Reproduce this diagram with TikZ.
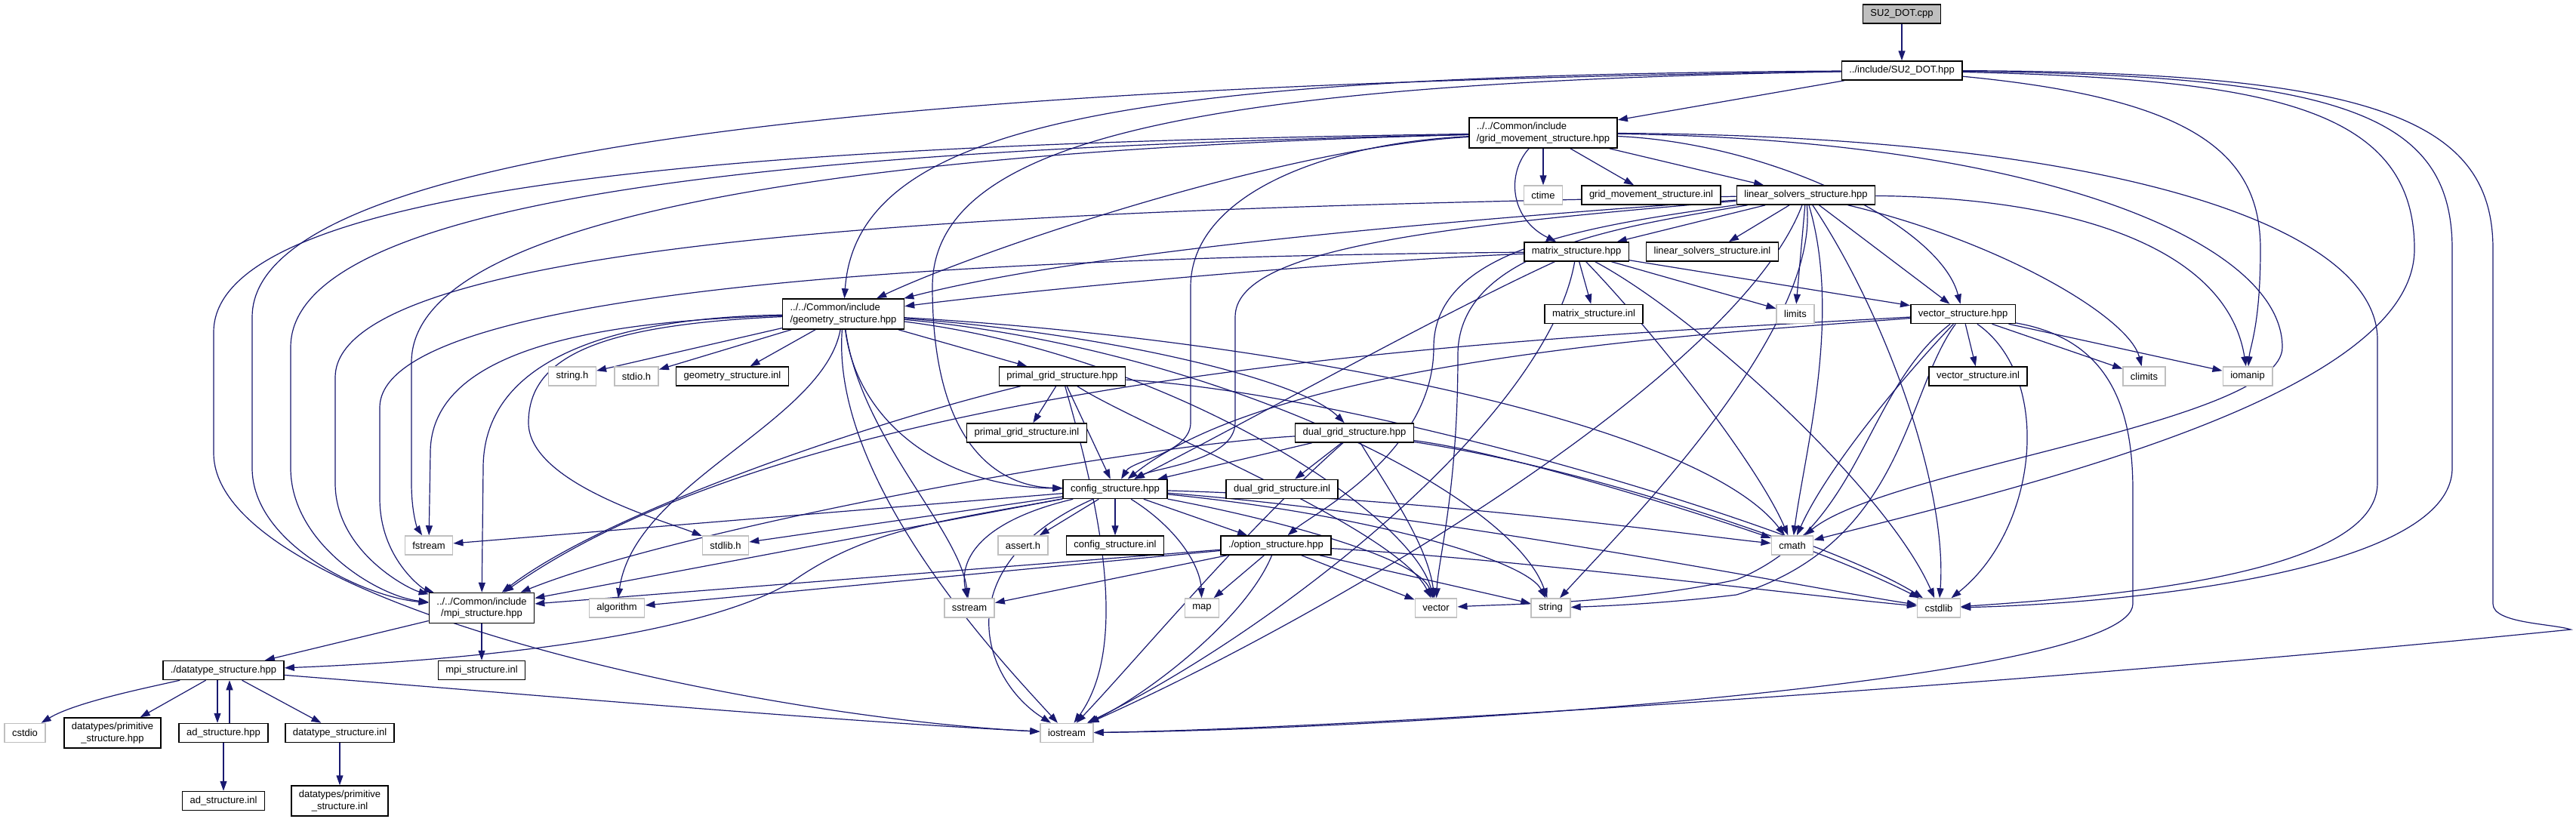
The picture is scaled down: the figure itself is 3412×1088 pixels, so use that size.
\documentclass[tikz,border=0pt]{standalone}
\usepackage{fontspec}
\setmainfont{Liberation Sans}
\usetikzlibrary{arrows.meta, backgrounds}
\definecolor{edgeblue}{HTML}{191970}
\definecolor{sysgray}{HTML}{BFBFBF}
\definecolor{rootgray}{HTML}{BFBFBF}
\newcommand{\gfont}{\fontsize{13bp}{15.3bp}\selectfont}
\tikzset{
  hdr/.style={draw=black, line width=1.5bp, fill=white, font=\gfont,
              inner xsep=10bp, inner ysep=0pt, minimum height=25bp},
  hdrtwo/.style={hdr, minimum height=40bp, align=left},
  hdrmid/.style={hdr, minimum height=40bp, align=center},
  sysh/.style={hdr, draw=sysgray},
  rootf/.style={hdr, fill=rootgray},
  dep/.style={-{Triangle[length=13bp,width=9bp]}, line width=1.2bp, draw=edgeblue},
}

\begin{document}
\begin{tikzpicture}[x=1bp, y=-1bp]
  \useasboundingbox (0,0) rectangle (3412,1088);
  % files, one row per rank
  \node[rootf] (cpp) at (2519,18.5) {SU2\_DOT.cpp};
  \node[hdr] (hpp) at (2519,93.5) {../include/SU2\_DOT.hpp};
  \node[hdrtwo] (grid) at (2044,176) {../../Common/include\\/grid\_movement\_structure.hpp};
  \node[sysh] (ctime) at (2044,258.5) {ctime};
  \node[hdr] (gridinl) at (2187,258.5) {grid\_movement\_structure.inl};
  \node[hdr] (lin) at (2392,258.5) {linear\_solvers\_structure.hpp};
  \node[hdr] (mat) at (2088,333.5) {matrix\_structure.hpp};
  \node[hdr] (lininl) at (2268,333.5) {linear\_solvers\_structure.inl};
  \node[hdrtwo] (geo) at (1117,416) {../../Common/include\\/geometry\_structure.hpp};
  \node[hdr] (matinl) at (2111,416) {matrix\_structure.inl};
  \node[sysh] (limits) at (2378,416) {limits};
  \node[hdr] (vec) at (2600,416) {vector\_structure.hpp};
  \node[sysh] (stringh) at (758,498.5) {string.h};
  \node[sysh] (stdioh) at (843,498.5) {stdio.h};
  \node[hdr] (geoinl) at (970,498.5) {geometry\_structure.inl};
  \node[hdr] (primal) at (1407,498.5) {primal\_grid\_structure.hpp};
  \node[hdr] (vecinl) at (2620,498.5) {vector\_structure.inl};
  \node[sysh] (climits) at (2840,498.5) {climits};
  \node[sysh] (iomanip) at (2977,498.5) {iomanip};
  \node[hdr] (primalinl) at (1360,573.5) {primal\_grid\_structure.inl};
  \node[hdr] (dual) at (1794,573.5) {dual\_grid\_structure.hpp};
  \node[hdr] (config) at (1477,648) {config\_structure.hpp};
  \node[hdr] (dualinl) at (1698,648) {dual\_grid\_structure.inl};
  \node[sysh] (fstream) at (568,722.5) {fstream};
  \node[sysh] (stdlibh) at (961,722.5) {stdlib.h};
  \node[sysh] (asserth) at (1355,722.5) {assert.h};
  \node[hdr] (configinl) at (1477,722.5) {config\_structure.inl};
  \node[hdr] (option) at (1690,722.5) {./option\_structure.hpp};
  \node[sysh] (cmath) at (2374,722.5) {cmath};
  \node[hdrmid] (mpi) at (638,805.5) {../../Common/include\\/mpi\_structure.hpp};
  \node[sysh] (algorithm) at (817,805.5) {algorithm};
  \node[sysh] (sstream) at (1284,805.5) {sstream};
  \node[sysh] (map) at (1592,805.5) {map};
  \node[sysh] (vector) at (1902,805.5) {vector};
  \node[sysh] (string) at (2054,805.5) {string};
  \node[sysh] (cstdlib) at (2568,805.5) {cstdlib};
  \node[hdr] (datatype) at (296,888) {./datatype\_structure.hpp};
  \node[hdr] (mpiinl) at (638,888) {mpi\_structure.inl};
  \node[sysh] (cstdio) at (33,971) {cstdio};
  \node[hdrmid] (primhpp) at (149,971) {datatypes/primitive\\\_structure.hpp};
  \node[hdr] (ad) at (296,971) {ad\_structure.hpp};
  \node[hdr] (datainl) at (450,971) {datatype\_structure.inl};
  \node[sysh] (iostream) at (1413,971) {iostream};
  \node[hdr] (adinl) at (296,1061) {ad\_structure.inl};
  \node[hdrmid] (priminl) at (450,1061) {datatypes/primitive\\\_structure.inl};

  \begin{scope}[on background layer]
  \fill[white] (0,0) rectangle (3412,1088);
  % straight includes
  \foreach \a/\b in {cpp/hpp, hpp/grid, grid/ctime, grid/gridinl, grid/lin,
      lin/mat, lin/lininl, lin/limits, lin/vec, mat/matinl, mat/limits, mat/vec,
      vec/vecinl, vec/climits, vec/iomanip, geo/stringh, geo/stdioh, geo/geoinl,
      geo/primal, primal/primalinl, primal/config, dual/dualinl, dual/config,
      config/asserth, config/configinl, config/option, config/fstream,
      config/stdlibh, config/mpi, option/mpi, option/algorithm, option/sstream,
      option/map, option/vector, option/string, mpi/datatype, mpi/mpiinl,
      datatype/primhpp, datatype/datainl, ad/adinl, datainl/priminl}
    \draw[dep] (\a) -- (\b);
  \draw[dep] ([xshift=-8bp]datatype.south) -- ([xshift=-8bp]ad.north);
  \draw[dep] ([xshift=8bp]ad.north) -- ([xshift=8bp]datatype.south);

  % ../include/SU2_DOT.hpp
  \draw[dep] (hpp) .. controls (1500,100) and (1135,160) .. (geo);
  \draw[dep] (hpp) .. controls (1600,110) and (1235,180) .. (1235,380)
             .. controls (1235,600) and (1330,645) .. (config);
  \draw[dep] (hpp) .. controls (1400,110) and (334,170) .. (334,420) -- (334,620)
             .. controls (334,720) and (480,790) .. (mpi);
  \draw[dep] (hpp) .. controls (2900,130) and (2994,200) .. (2994,330)
             .. controls (2994,430) and (2980,460) .. (iomanip);
  \draw[dep] (hpp) .. controls (3000,105) and (3198,140) .. (3198,330)
             .. controls (3198,520) and (2700,640) .. (cmath);
  \draw[dep] (hpp) .. controls (3100,100) and (3248,150) .. (3248,330) -- (3248,620)
             .. controls (3248,760) and (2800,800) .. (cstdlib);
  \draw[dep] (hpp) .. controls (3150,95) and (3302,160) .. (3302,330) -- (3302,800)
             .. controls (3302,826) and (3380,826) .. (3405,834)
             .. controls (2700,905) and (1800,965) .. (iostream);

  % grid_movement_structure.hpp
  \draw[dep] (grid) .. controls (1995,230) and (2000,290) .. (mat);
  \draw[dep] (grid) .. controls (1700,195) and (1300,330) .. (geo);
  \draw[dep] (grid) .. controls (1750,190) and (1577,260) .. (1577,380) -- (1577,560)
             .. controls (1577,600) and (1500,610) .. (config);
  \draw[dep] (grid) .. controls (2350,190) and (2570,300) .. (vec);
  \draw[dep] (grid) .. controls (2700,185) and (3023,320) .. (3023,460)
             .. controls (3023,560) and (2500,620) .. (cmath);
  \draw[dep] (grid) .. controls (2800,180) and (3149,300) .. (3149,450) -- (3149,640)
             .. controls (3149,760) and (2800,790) .. (cstdlib);
  \draw[dep] (grid) .. controls (1200,195) and (385,240) .. (385,460) -- (385,620)
             .. controls (385,720) and (500,790) .. (mpi);
  \draw[dep] (grid) .. controls (1100,200) and (545,290) .. (545,480) -- (545,640)
             .. controls (545,680) and (553,700) .. (fstream);
  \draw[dep] (grid) .. controls (1100,190) and (283,230) .. (283,440) -- (283,600)
             .. controls (283,800) and (1000,950) .. (iostream);

  % linear_solvers_structure.hpp
  \draw[dep] (lin) .. controls (1950,290) and (1450,330) .. (geo);
  \draw[dep] (lin) .. controls (1900,300) and (1636,330) .. (1636,420) -- (1636,560)
             .. controls (1636,610) and (1530,620) .. (config);
  \draw[dep] (lin) .. controls (2100,300) and (1899,330) .. (1899,460)
             .. controls (1899,600) and (1740,680) .. (option);
  \draw[dep] (lin) .. controls (2150,300) and (1931,330) .. (1931,470)
             .. controls (1931,650) and (1905,740) .. (vector);
  \draw[dep] (lin) .. controls (1500,275) and (444,300) .. (444,500) -- (444,640)
             .. controls (444,730) and (540,780) .. (mpi);
  \draw[dep] (lin) .. controls (2440,420) and (2390,600) .. (cmath);
  \draw[dep] (lin) .. controls (2410,440) and (2150,700) .. (string);
  \draw[dep] (lin) .. controls (2750,262) and (2950,330) .. (iomanip);
  \draw[dep] (lin) .. controls (2650,320) and (2820,420) .. (climits);
  \draw[dep] (lin) .. controls (2500,420) and (2580,650) .. (cstdlib);
  \draw[dep] (lin) .. controls (2300,500) and (1750,820) .. (iostream);

  % matrix_structure.hpp
  \draw[dep] (mat) .. controls (1800,345) and (1400,380) .. (geo);
  \draw[dep] (mat) .. controls (1900,420) and (1650,560) .. (config);
  \draw[dep] (mat) .. controls (1400,340) and (503,370) .. (503,540) -- (503,660)
             .. controls (503,740) and (560,780) .. (mpi);
  \draw[dep] (mat) .. controls (2200,450) and (2330,620) .. (cmath);
  \draw[dep] (mat) .. controls (2250,420) and (2500,650) .. (cstdlib);
  \draw[dep] (mat) .. controls (2050,550) and (1700,830) .. (iostream);

  % vector_structure.hpp
  \draw[dep] (vec) .. controls (2520,500) and (2420,620) .. (cmath);
  \draw[dep] (vec) .. controls (2720,500) and (2700,700) .. (cstdlib);
  \draw[dep] (vec) .. controls (2467,520) and (2467,700) .. (2300,768)
             .. controls (2150,800) and (2000,800) .. (vector);
  \draw[dep] (vec) .. controls (2523,520) and (2523,720) .. (2300,788)
             .. controls (2200,800) and (2120,803) .. (string);
  \draw[dep] (vec) .. controls (2800,450) and (2825,550) .. (2825,650) -- (2825,800)
             .. controls (2825,900) and (1900,965) .. (iostream);
  \draw[dep] (vec) .. controls (2100,445) and (1100,480) .. (mpi);
  \draw[dep] (vec) .. controls (2300,440) and (1700,470) .. (config);

  % geometry_structure.hpp
  \draw[dep] (geo) .. controls (1450,440) and (1720,500) .. (dual);
  \draw[dep] (geo) .. controls (1135,560) and (1250,645) .. (config);
  \draw[dep] (geo) .. controls (1700,450) and (2250,560) .. (cmath);
  \draw[dep] (geo) .. controls (1600,460) and (2000,650) .. (string);
  \draw[dep] (geo) .. controls (1550,470) and (1870,680) .. (vector);
  \draw[dep] (geo) .. controls (1140,580) and (1270,700) .. (sstream);
  \draw[dep] (geo) .. controls (1090,560) and (840,640) .. (algorithm);
  \draw[dep] (geo) .. controls (800,430) and (700,470) .. (700,560)
             .. controls (700,640) and (880,690) .. (stdlibh);
  \draw[dep] (geo) .. controls (850,420) and (640,460) .. (640,620) -- (mpi);
  \draw[dep] (geo) .. controls (800,425) and (570,460) .. (570,600) -- (fstream);
  \draw[dep] (geo) .. controls (1100,640) and (1330,880) .. (iostream);

  % primal / dual grid
  \draw[dep] (primal) .. controls (1150,560) and (800,680) .. (mpi);
  \draw[dep] (primal) .. controls (1450,650) and (1500,850) .. (iostream);
  \draw[dep] (primal) .. controls (1500,560) and (1850,700) .. (vector);
  \draw[dep] (primal) .. controls (1800,520) and (2400,700) .. (cstdlib);
  \draw[dep] (dual) .. controls (1500,590) and (900,700) .. (mpi);
  \draw[dep] (dual) .. controls (1650,700) and (1500,880) .. (iostream);
  \draw[dep] (dual) .. controls (1840,650) and (1890,720) .. (vector);
  \draw[dep] (dual) .. controls (2000,600) and (2250,680) .. (cmath);
  \draw[dep] (dual) .. controls (2100,620) and (2400,720) .. (cstdlib);

  % config_structure.hpp
  \draw[dep] (config) .. controls (1300,690) and (1270,740) .. (sstream);
  \draw[dep] (config) .. controls (1560,700) and (1590,750) .. (map);
  \draw[dep] (config) .. controls (1700,690) and (1880,740) .. (vector);
  \draw[dep] (config) .. controls (1800,680) and (2020,740) .. (string);
  \draw[dep] (config) .. controls (1900,680) and (2400,780) .. (cstdlib);
  \draw[dep] (config) .. controls (1900,660) and (2250,710) .. (cmath);
  \draw[dep] (config) .. controls (1250,690) and (1150,700) .. (1050,770)
             .. controls (900,860) and (500,880) .. (datatype);
  \draw[dep] (config) .. controls (1250,750) and (1300,900) .. (iostream);

  % option_structure.hpp
  \draw[dep] (option) .. controls (2000,740) and (2400,790) .. (cstdlib);
  \draw[dep] (option) .. controls (1650,820) and (1520,920) .. (iostream);

  % datatype_structure.hpp
  \draw[dep] (datatype) .. controls (200,910) and (100,930) .. (cstdio);
  \draw[dep] (datatype) .. controls (700,920) and (1100,955) .. (iostream);
  \end{scope}
\end{tikzpicture}
\end{document}
